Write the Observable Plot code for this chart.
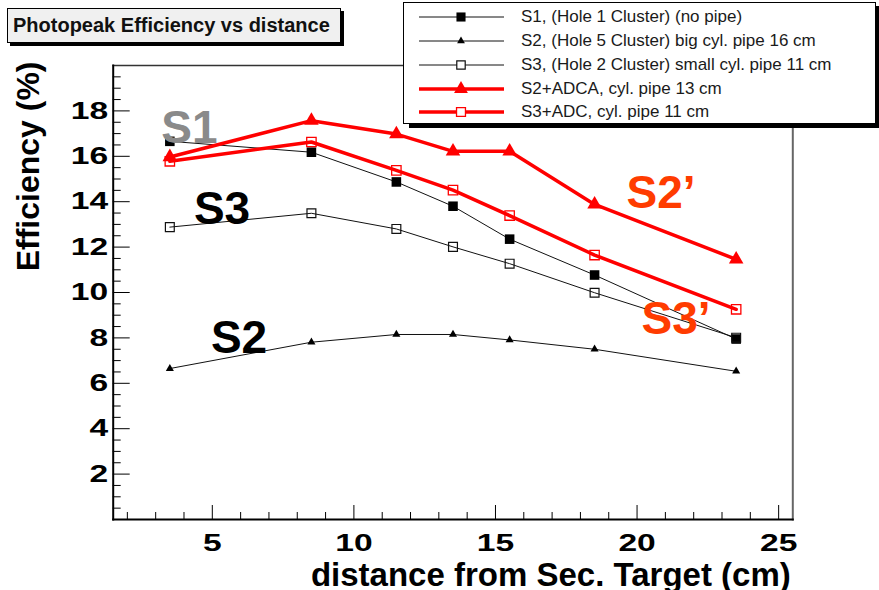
<!DOCTYPE html>
<html><head><meta charset="utf-8">
<script src="https://cdn.jsdelivr.net/npm/d3@7"></script>
<script src="https://cdn.jsdelivr.net/npm/@observablehq/plot@0.6"></script>
<style>
body{margin:0;background:#fff;font-family:"Liberation Sans",Arial,sans-serif}
#wrap{position:relative;width:879px;height:590px;overflow:hidden}
#chart{position:absolute;left:0;top:0}
#title{position:absolute;left:7px;top:8px;width:334px;height:35px;box-sizing:border-box;border:1px solid #000;background:#f0f0f0;box-shadow:3px 3px 0 #000;font-weight:bold;font-size:20px;line-height:33px;padding-left:5px;color:#111;white-space:nowrap}
#legend{position:absolute;left:403px;top:2px;width:473px;height:122px;box-sizing:border-box;border:1px solid #000;background:#fff;box-shadow:6px 4px 0 #000}
.row{position:absolute;left:0;height:20px;width:470px}
.row svg{position:absolute;left:0;top:0}
.row span{position:absolute;left:117px;top:0;font-size:17px;line-height:20px;color:#1a1a1a;white-space:nowrap}
</style>
</head><body>
<div id="wrap">
  <div id="chart"></div>
  <div id="title">Photopeak Efficiency vs distance</div>
  <div id="legend"></div>
</div>
<script>
// ---- data ----
const distances = [3.5, 8.5, 11.5, 13.5, 15.5, 18.5, 23.5];
const s1 = [16.66, 16.18, 14.87, 13.80, 12.35, 10.77, 7.95];
const s2 = [6.65, 7.81, 8.15, 8.15, 7.91, 7.50, 6.53];
const s3 = [12.88, 13.49, 12.80, 12.01, 11.27, 9.99, 8.01];
const s2adca = [15.97, 17.57, 16.98, 16.22, 16.22, 13.88, 11.46];
const s3adc = [15.78, 16.63, 15.38, 14.51, 13.39, 11.65, 9.26];
const seriesNames = [
  "S1, (Hole 1 Cluster) (no pipe)",
  "S2, (Hole 5 Cluster) big cyl. pipe 16 cm",
  "S3, (Hole 2 Cluster) small cyl. pipe 11 cm",
  "S2+ADCA, cyl. pipe 13 cm",
  "S3+ADC, cyl. pipe 11 cm"
];
const seriesValues = [s1, s2, s3, s2adca, s3adc];
const yMajorTicks = [2, 4, 6, 8, 10, 12, 14, 16, 18];
const xMajorTicks = [5, 10, 15, 20, 25];
const annotationLabels = ["S1", "S3", "S2", "S2\u2019", "S3\u2019"];
const annotationX = [3.2, 4.35, 4.95, 19.63, 20.16];
const annotationY = [16.57, 13.01, 7.34, 13.71, 8.18];

// ---- styles ----
const styles = [
  {stroke: "#111", width: 1, symbol: "square", fill: "#000", r: 5.4, sw: 0},
  {stroke: "#111", width: 1, symbol: "triangle", fill: "#000", r: 3.0, sw: 0},
  {stroke: "#111", width: 1, symbol: "square", fill: "none", r: 5.0, sw: 1.2},
  {stroke: "#ff0000", width: 3.5, symbol: "triangle", fill: "#ff0000", r: 5.4, sw: 0},
  {stroke: "#ff0000", width: 3.5, symbol: "square", fill: "none", r: 5.3, sw: 1.3}
];
const annotationColors = ["#8a8a8a", "#000", "#000", "#ff3c00", "#ff3c00"];

const W = 879, H = 590, mL = 112.7, mR = 86.7, mT = 65, mB = 71;
const frameW = W - mL - mR, frameH = H - mT - mB;

const rows = [];
seriesNames.forEach((name, si) => distances.forEach((d, i) => rows.push({series: name, si, x: d, y: seriesValues[si][i]})));
const annotations = annotationLabels.map((t, i) => ({t, x: annotationX[i], y: annotationY[i], c: annotationColors[i]}));

const yMinor = d3.range(0.5, 20, 0.5).filter(v => !yMajorTicks.includes(v));
const xMinor = d3.range(2, 26, 1).filter(v => !xMajorTicks.includes(v));

const marks = [];
seriesNames.forEach((name, si) => {
  const st = styles[si];
  const data = rows.filter(r => r.si === si);
  marks.push(Plot.line(data, {x: "x", y: "y", stroke: st.stroke, strokeWidth: st.width}));
});
seriesNames.forEach((name, si) => {
  const st = styles[si];
  const data = rows.filter(r => r.si === si);
  marks.push(Plot.dot(data, {x: "x", y: "y", symbol: () => st.symbol, r: st.r, fill: st.fill,
    stroke: st.fill === "none" ? st.stroke : "none", strokeWidth: st.sw}));
});

const plot = Plot.plot({
  width: W, height: H,
  marginLeft: mL, marginRight: mR, marginTop: mT, marginBottom: mB,
  style: {fontFamily: "'Liberation Sans', Arial, sans-serif", background: "transparent", overflow: "visible"},
  x: {domain: [1.5, 25.5]},
  y: {domain: [0, 20]},
  symbol: {domain: ["square", "triangle"], range: ["square", "triangle"]},
  marks: [
    // inward ticks (ROOT style)
    Plot.tickY(yMinor, {y: d => d, insetRight: frameW - 8, stroke: "#000", strokeWidth: 1}),
    Plot.tickY(yMajorTicks, {y: d => d, insetRight: frameW - 17, stroke: "#000", strokeWidth: 1}),
    Plot.tickX(xMinor, {x: d => d, insetTop: frameH - 7, stroke: "#000", strokeWidth: 1}),
    Plot.tickX(xMajorTicks, {x: d => d, insetTop: frameH - 14, stroke: "#000", strokeWidth: 1}),
    Plot.axisY(yMajorTicks, {tickSize: 0, tickPadding: 5, label: null, fontSize: 24, fontWeight: "bold", fill: "#000"}),
    Plot.axisX(xMajorTicks, {tickSize: 0, tickPadding: 14, label: null, fontSize: 24, fontWeight: "bold", fill: "#000"}),
    ...marks,
    Plot.frame({anchor: "top", stroke: "#333", strokeWidth: 1.5}),
    Plot.frame({anchor: "right", stroke: "#666", strokeWidth: 2}),
    Plot.frame({anchor: "left", stroke: "#000", strokeWidth: 2}),
    Plot.frame({anchor: "bottom", stroke: "#000", strokeWidth: 2}),
    Plot.text(["Efficiency (%)"], {frameAnchor: "top-left", rotate: -90, textAnchor: "end", lineAnchor: "middle",
      dx: -84, dy: -4, fontSize: 32, fontWeight: "bold", fill: "#000"}),
    Plot.text(["distance from Sec. Target (cm)"], {frameAnchor: "bottom-right", textAnchor: "end", lineAnchor: "bottom",
      dx: -2, dy: 66, fontSize: 33, fontWeight: "bold", fill: "#000"}),
    Plot.text(annotations, {x: "x", y: "y", text: "t", fill: "c", fontSize: 46, fontWeight: "bold",
      textAnchor: "start", lineAnchor: "bottom"})
  ]
});
document.getElementById("chart").appendChild(plot);

// stretch tick labels horizontally like the reference rendering (y attribute kept as is)
function stretch(selector, k) {
  plot.querySelectorAll(selector).forEach(t => {
    const xa = t.getAttribute("x");
    const numeric = xa && /^-?[\d.]+$/.test(xa);
    const x = numeric ? +xa : 0;
    if (numeric) t.removeAttribute("x");
    const tr = t.getAttribute("transform") || "";
    t.setAttribute("transform", `${tr} translate(${x},0) scale(${k},1)`);
  });
}
stretch('g[aria-label="y-axis tick label"] text', 1.4);
stretch('g[aria-label="x-axis tick label"] text', 1.4);

// ---- legend ----
const legend = d3.select("#legend");
const rowCenters = [14, 38, 62, 86, 109];
seriesNames.forEach((name, si) => {
  const st = styles[si];
  const row = legend.append("div").attr("class", "row").style("top", (rowCenters[si] - 10) + "px");
  const svg = row.append("svg").attr("width", 110).attr("height", 20);
  svg.append("line").attr("x1", 15).attr("x2", 100).attr("y1", 10).attr("y2", 10)
    .attr("stroke", st.stroke).attr("stroke-width", st.width);
  const sym = st.symbol === "square" ? d3.symbolSquare : d3.symbolTriangle;
  const r = st.symbol === "triangle" && si === 1 ? 2.9 : st.r * 0.95;
  svg.append("path").attr("d", d3.symbol(sym, r * r * Math.PI)()).attr("transform", "translate(57,10)")
    .attr("fill", st.fill === "none" ? "#fff" : st.fill)
    .attr("stroke", st.fill === "none" ? st.stroke : "none").attr("stroke-width", st.sw);
  row.append("span").text(name);
});
</script>
</body></html>
